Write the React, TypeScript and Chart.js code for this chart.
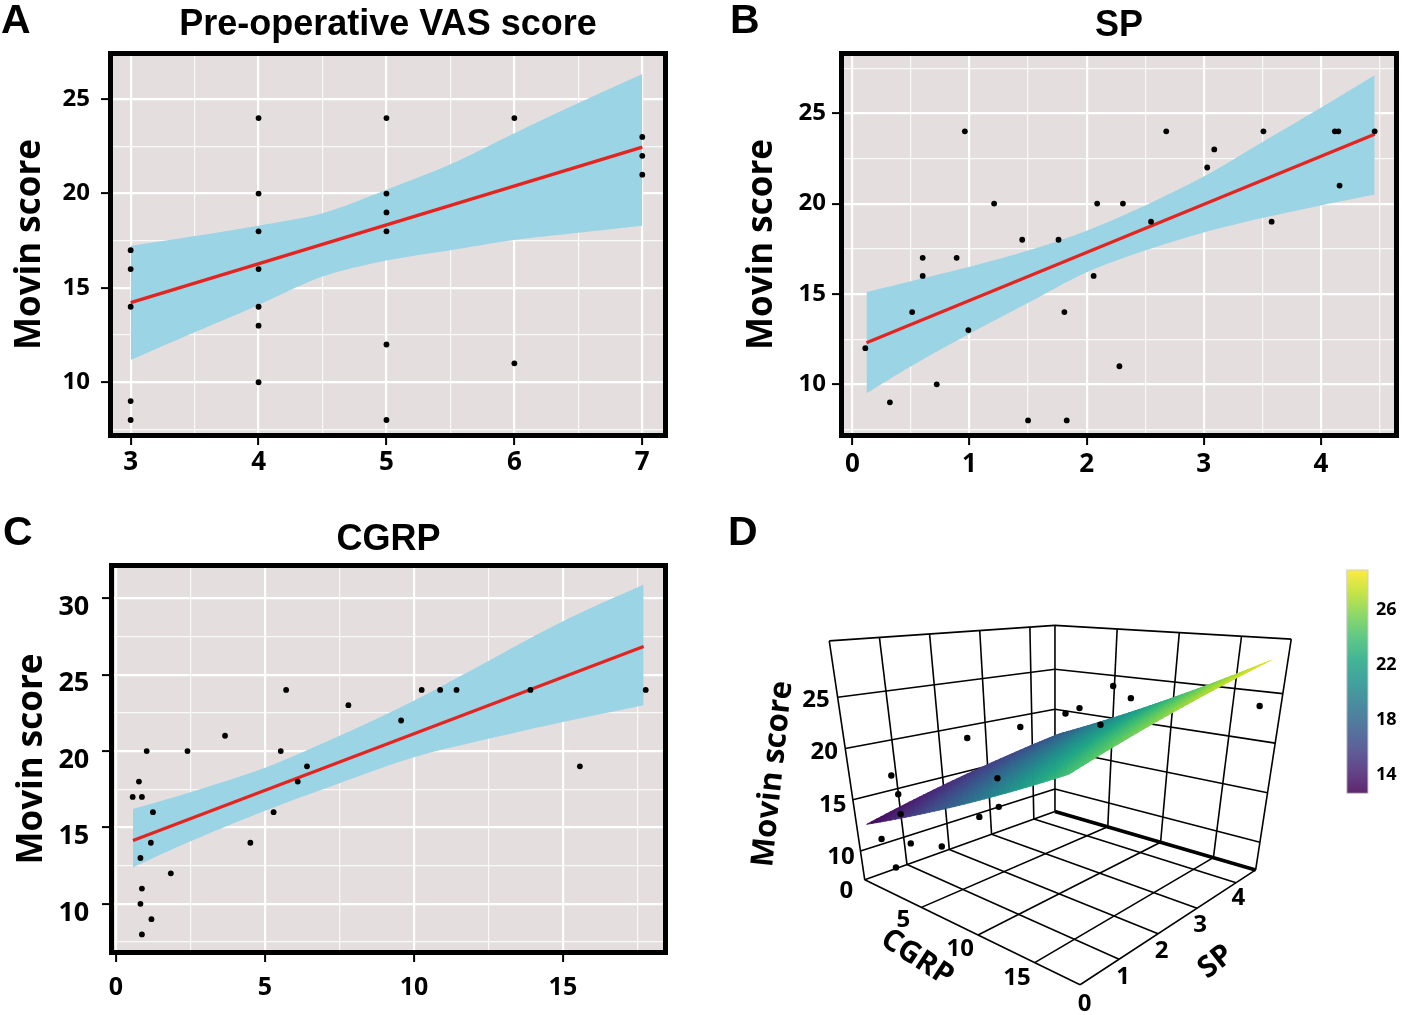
import React, { useEffect, useRef } from 'react';
import { Chart, registerables } from 'chart.js';

Chart.register(...registerables);

// ---------------- Panel A: Pre-operative VAS score ----------------
const aVas = [3, 3, 3, 3, 3, 4, 4, 4, 4, 4, 4, 4, 5, 5, 5, 5, 5, 5, 6, 6, 7, 7, 7];
const aMovin = [17, 16, 14, 9, 8, 24, 20, 18, 16, 14, 13, 10, 24, 20, 19, 18, 12, 8, 24, 11, 23, 22, 21];
const aFitX = [3, 7];
const aFitY = [14.22, 22.46];
const aBandX = [3, 3.5, 4, 4.5, 5, 5.5, 6, 6.5, 7];
const aBandHi = [17.23, 17.75, 18.3, 18.95, 20.2, 21.55, 23.2, 24.8, 26.34];
const aBandLo = [11.18, 12.65, 14.1, 15.6, 16.45, 17.0, 17.54, 17.92, 18.29];
const aXTicks = [3, 4, 5, 6, 7];
const aYTicks = [10, 15, 20, 25];

// ---------------- Panel B: SP ----------------
const bSp = [0.11, 0.32, 0.51, 0.6, 0.6, 0.72, 0.89, 0.96, 0.99, 1.21, 1.45, 1.5, 1.76, 1.81, 1.83, 2.06, 2.09, 2.28, 2.31, 2.55, 2.68, 3.03, 3.09, 3.51, 3.58, 4.12, 4.15, 4.16, 4.46];
const bMovin = [12, 9, 14, 17, 16, 10, 17, 24, 13, 20, 18, 8, 18, 14, 8, 16, 20, 11, 20, 19, 24, 22, 23, 24, 19, 24, 24, 21, 24];
const bFitX = [0.12, 4.46];
const bFitY = [12.3, 23.84];
const bBandX = [0.12, 0.5, 1.0, 1.5, 2.0, 2.5, 3.0, 3.5, 4.0, 4.46];
const bBandHi = [15.1, 15.7, 16.5, 17.4, 18.5, 19.9, 21.5, 23.4, 25.3, 27.1];
const bBandLo = [9.5, 11.0, 12.8, 14.5, 16.2, 17.4, 18.4, 19.2, 19.9, 20.5];
const bXTicks = [0, 1, 2, 3, 4];
const bYTicks = [10, 15, 20, 25];

// ---------------- Panel C: CGRP ----------------
const cCgrp = [0.56, 0.77, 0.87, 1.03, 1.24, 1.17, 0.82, 1.84, 0.87, 0.82, 1.19, 0.87, 2.4, 3.66, 4.51, 5.29, 5.53, 5.71, 6.1, 6.41, 7.8, 9.57, 10.26, 10.88, 11.43, 13.91, 15.57, 17.78];
const cMovin = [17, 18, 17, 20, 16, 14, 13, 12, 11, 10, 9, 8, 20, 21, 14, 16, 20, 24, 18, 19, 23, 22, 24, 24, 24, 24, 19, 24];
const cFitX = [0.57, 17.71];
const cFitY = [14.14, 26.84];
const cBandX = [0.57, 2.5, 5, 7.5, 10, 12.5, 15, 17.71];
const cBandHi = [16.2, 17.3, 18.9, 21.0, 23.3, 25.9, 28.5, 30.9];
const cBandLo = [12.4, 14.1, 16.1, 17.9, 19.6, 20.8, 21.9, 23.0];
const cXTicks = [0, 5, 10, 15];
const cYTicks = [10, 15, 20, 25, 30];

// ---------------- Panel D: 3D (CGRP, SP, Movin) ----------------
const dCgrp = [0.8, 0.8, 0.8, 0.6, 1.0, 0.8, 3.8, 0.6, 0.6, 3.8, 3.8, 3.0, 2.9, 2.5, 5.4, 7.2, 5.7, 18.05];
const dSp = [0.7, 0.8, 0.8, 0.36, 0.9, 0.55, 0.9, 2.45, 3.6, 2.25, 2.25, 2.0, 4.3, 4.1, 4.37, 4.3, 4.05, 4.27];
const dMovin = [17, 15, 13, 11, 10, 8, 11, 19, 19, 16, 13, 12, 21, 20.5, 24, 23, 20, 24];
const dCgrpRange = [0, 19];
const dSpRange = [0, 4.5];
const dZRange = [7.2, 30.5];
const dCgrpTicks = [0, 5, 10, 15];
const dSpTicks = [0, 1, 2, 3, 4];
const dZTicks = [10, 15, 20, 25];
const dSurfCoef = [12.3, 0.65, 1.0]; // intercept, CGRP slope, SP slope
const dSurfCgrp = [0.5, 17.8];
const dSurfSp = [0.1, 4.46];
const dColorRange = [12.67, 28.9];
const dColorTicks = [14, 18, 22, 26];

// ---------------- styling helpers ----------------
const VIRIDIS = ['#440154', '#482475', '#414487', '#355f8d', '#2a788e', '#21918c', '#22a884', '#44bf70', '#7ad151', '#bddf26', '#fde725'];
function hexToRgb(h: string) {
  const n = parseInt(h.slice(1), 16);
  return [(n >> 16) & 255, (n >> 8) & 255, n & 255];
}
function viridis(t: number, alpha = 1) {
  const tt = Math.max(0, Math.min(1, t)) * (VIRIDIS.length - 1);
  const i = Math.min(VIRIDIS.length - 2, Math.floor(tt));
  const f = tt - i;
  const a = hexToRgb(VIRIDIS[i]);
  const b = hexToRgb(VIRIDIS[i + 1]);
  const c = a.map((v, k) => Math.round(v + (b[k] - v) * f));
  return `rgba(${c[0]},${c[1]},${c[2]},${alpha})`;
}

const SANS = '"Open Sans", "Liberation Sans", sans-serif';
const TITLE_FONT = '"Liberation Sans", Arial, sans-serif';

function withMinor(major: number[], lo: number, hi: number) {
  const step = major[1] - major[0];
  const out: number[] = [];
  for (let v = major[0] - step; v <= major[major.length - 1] + step + 1e-9; v += step / 2) {
    if (v > lo + 1e-6 && v < hi - 1e-6) out.push(+v.toFixed(4));
  }
  return out;
}

type PanelSpec = {
  xs: number[]; ys: number[];
  fitX: number[]; fitY: number[];
  bandX: number[]; bandHi: number[]; bandLo: number[];
  xRange: number[]; yRange: number[];
  xTicks: number[]; yTicks: number[];
  width: number; height: number;
  area: { left: number; top: number; right: number; bottom: number };
  title: string; titleBaseline: number;
  letter: string; letterX: number; letterBaseline: number;
  yTitlePad: number; yTickPad: number; xTickPad: number;
  yTickSize: number; xTickSize: number; yLabelOffset: number;
};

function panelPlugin(p: PanelSpec) {
  return {
    id: 'panelDeco',
    beforeDraw(chart: any) {
      const { ctx, chartArea: a } = chart;
      ctx.save();
      ctx.fillStyle = '#e4dedf';
      ctx.fillRect(a.left, a.top, a.right - a.left, a.bottom - a.top);
      ctx.restore();
    },
    afterDraw(chart: any) {
      const { ctx, chartArea: a } = chart;
      ctx.save();
      ctx.strokeStyle = '#000';
      ctx.lineWidth = 5;
      ctx.strokeRect(a.left - 2.5, a.top - 2.5, a.right - a.left + 5, a.bottom - a.top + 5);
      ctx.fillStyle = '#000';
      ctx.font = `bold 36px ${TITLE_FONT}`;
      ctx.textAlign = 'center';
      ctx.textBaseline = 'alphabetic';
      ctx.fillText(p.title, (a.left + a.right) / 2, p.titleBaseline);
      ctx.font = `bold 41px ${TITLE_FONT}`;
      ctx.textAlign = 'left';
      ctx.fillText(p.letter, p.letterX, p.letterBaseline);
      ctx.restore();
    },
  };
}

function makeScatterConfig(p: PanelSpec): any {
  const near = (arr: number[], v: number) => arr.some((t) => Math.abs(t - v) < 1e-6);
  const xAll = withMinor(p.xTicks, p.xRange[0], p.xRange[1]);
  const yAll = withMinor(p.yTicks, p.yRange[0], p.yRange[1]);
  const gridFor = (majors: number[]) => ({
    color: (c: any) => (c.tick && near(majors, c.tick.value) ? 'rgba(255,255,255,1)' : 'rgba(255,255,255,0.8)'),
    lineWidth: (c: any) => (c.tick && near(majors, c.tick.value) ? 2.2 : 1.2),
    tickColor: (c: any) => (c.tick && near(majors, c.tick.value) ? '#000' : 'rgba(0,0,0,0)'),
    tickWidth: 2,
    tickLength: 12,
    drawTicks: true,
  });
  return {
    type: 'scatter',
    data: {
      datasets: [
        {
          type: 'scatter',
          data: p.xs.map((x, i) => ({ x, y: p.ys[i] })),
          pointRadius: 2.9,
          pointBackgroundColor: '#000',
          pointBorderWidth: 0,
        },
        {
          type: 'line',
          data: p.fitX.map((x, i) => ({ x, y: p.fitY[i] })),
          borderColor: '#e5231f',
          borderWidth: 3.2,
          pointRadius: 0,
          fill: false,
          tension: 0,
        },
        {
          type: 'line',
          data: p.bandX.map((x, i) => ({ x, y: p.bandHi[i] })),
          borderColor: 'rgba(0,0,0,0)',
          borderWidth: 0.01,
          pointRadius: 0,
          fill: '+1',
          backgroundColor: '#9bd4e4',
          tension: 0.3,
        },
        {
          type: 'line',
          data: p.bandX.map((x, i) => ({ x, y: p.bandLo[i] })),
          borderColor: 'rgba(0,0,0,0)',
          borderWidth: 0.01,
          pointRadius: 0,
          fill: false,
          tension: 0.3,
        },
      ],
    },
    options: {
      responsive: false,
      animation: false,
      events: [],
      layout: { padding: { top: p.area.top, right: p.width - p.area.right, left: 0, bottom: 0 } },
      plugins: { legend: { display: false }, tooltip: { enabled: false }, title: { display: false } },
      scales: {
        x: {
          type: 'linear',
          min: p.xRange[0],
          max: p.xRange[1],
          afterBuildTicks: (s: any) => { s.ticks = xAll.map((v) => ({ value: v })); },
          afterFit: (s: any) => { s.height = p.height - p.area.bottom; },
          ticks: {
            autoSkip: false,
            maxRotation: 0,
            padding: p.xTickPad,
            color: '#000',
            font: { family: SANS, size: p.xTickSize, weight: 'bold' },
            callback: (v: any) => (near(p.xTicks, v) ? String(v) : ''),
          },
          grid: gridFor(p.xTicks),
          border: { display: false },
        },
        y: {
          type: 'linear',
          min: p.yRange[0],
          max: p.yRange[1],
          afterBuildTicks: (s: any) => { s.ticks = yAll.map((v) => ({ value: v })); },
          afterFit: (s: any) => { s.width = p.area.left; },
          ticks: {
            autoSkip: false,
            padding: p.yTickPad,
            labelOffset: p.yLabelOffset,
            color: '#000',
            font: { family: SANS, size: p.yTickSize, weight: 'bold' },
            callback: (v: any) => (near(p.yTicks, v) ? String(v) : ''),
          },
          grid: gridFor(p.yTicks),
          border: { display: false },
          title: {
            display: true,
            text: 'Movin score',
            color: '#000',
            font: { family: SANS, size: 35, weight: 'bold', lineHeight: 1.2 },
            padding: { top: p.yTitlePad, bottom: 0 },
          },
        },
      },
    },
    plugins: [panelPlugin(p)],
  };
}

// ---------------- 3D projection for panel D ----------------
const BOX: Record<string, number[]> = {
  L: [162.6, 381.7], F: [380.4, 488.3], R: [558, 371.7], B: [355, 312.3],
  Lt: [126.7, 139], Ft: [380, 200], Rt: [594, 137.3], Bt: [355, 123.3],
};
function project(c: number, s: number, z: number) {
  const u = (c - dCgrpRange[0]) / (dCgrpRange[1] - dCgrpRange[0]);
  const v = (s - dSpRange[0]) / (dSpRange[1] - dSpRange[0]);
  const w = (z - dZRange[0]) / (dZRange[1] - dZRange[0]);
  const bl = (a: number[], b: number[], cc: number[], d: number[], i: number) =>
    a[i] * (1 - u) * (1 - v) + b[i] * u * (1 - v) + cc[i] * u * v + d[i] * (1 - u) * v;
  const fx = bl(BOX.L, BOX.F, BOX.R, BOX.B, 0);
  const fy = bl(BOX.L, BOX.F, BOX.R, BOX.B, 1);
  const tx = bl(BOX.Lt, BOX.Ft, BOX.Rt, BOX.Bt, 0);
  const ty = bl(BOX.Lt, BOX.Ft, BOX.Rt, BOX.Bt, 1);
  return { x: fx + w * (tx - fx), y: fy + w * (ty - fy) };
}

type Seg = { a: number[]; b: number[]; w: number };
function buildSegments(): Seg[] {
  const [c0, c1] = dCgrpRange;
  const [s0, s1] = dSpRange;
  const [z0, z1] = dZRange;
  const segs: Seg[] = [];
  const innerS = dSpTicks.filter((t) => t > s0 && t < s1);
  const innerC = dCgrpTicks.filter((t) => t > c0 && t < c1);
  // left wall (CGRP = min)
  for (const s of [s0, ...innerS, s1]) segs.push({ a: [c0, s, z0], b: [c0, s, z1], w: 1.6 });
  for (const z of [z0, ...dZTicks, z1]) segs.push({ a: [c0, s0, z], b: [c0, s1, z], w: 1.6 });
  // back wall (SP = max)
  for (const c of [...innerC, c1]) segs.push({ a: [c, s1, z0], b: [c, s1, z1], w: 1.6 });
  for (const z of [...dZTicks, z1]) segs.push({ a: [c0, s1, z], b: [c1, s1, z], w: 1.6 });
  segs.push({ a: [c0, s1, z0], b: [c1, s1, z0], w: 3.6 });
  // floor
  for (const c of [...innerC, c1]) segs.push({ a: [c, s0, z0], b: [c, s1, z0], w: 1.6 });
  for (const s of [s0, ...innerS]) segs.push({ a: [c0, s, z0], b: [c1, s, z0], w: 1.6 });
  return segs;
}

const dPlugin = {
  id: 'panelD',
  beforeDatasetDraw(chart: any, args: any) {
    if (args.index !== 0) return;
    const { ctx, scales } = chart;
    const X = (v: number) => scales.x.getPixelForValue(v);
    const Y = (v: number) => scales.y.getPixelForValue(v);
    const zf = (c: number, s: number) => dSurfCoef[0] + dSurfCoef[1] * c + dSurfCoef[2] * s;
    const N = 40;
    const [ca, cb] = dSurfCgrp;
    const [sa, sb] = dSurfSp;
    ctx.save();
    for (let i = 0; i < N; i++) {
      for (let j = 0; j < N; j++) {
        const c0 = ca + ((cb - ca) * i) / N, c1 = ca + ((cb - ca) * (i + 1)) / N;
        const s0 = sa + ((sb - sa) * j) / N, s1 = sa + ((sb - sa) * (j + 1)) / N;
        const pts = [[c0, s0], [c1, s0], [c1, s1], [c0, s1]].map(([c, s]) => project(c, s, zf(c, s)));
        const zm = zf((c0 + c1) / 2, (s0 + s1) / 2);
        const col = viridis((zm - dColorRange[0]) / (dColorRange[1] - dColorRange[0]), 1);
        ctx.beginPath();
        pts.forEach((p, k) => (k ? ctx.lineTo(X(p.x), Y(p.y)) : ctx.moveTo(X(p.x), Y(p.y))));
        ctx.closePath();
        ctx.fillStyle = col;
        ctx.strokeStyle = col;
        ctx.lineWidth = 0.8;
        ctx.fill();
        ctx.stroke();
      }
    }
    ctx.restore();
  },
  afterDraw(chart: any) {
    const { ctx, scales } = chart;
    const X = (v: number) => scales.x.getPixelForValue(v);
    const Y = (v: number) => scales.y.getPixelForValue(v);
    ctx.save();
    ctx.fillStyle = '#000';
    ctx.textAlign = 'center';
    ctx.textBaseline = 'middle';
    ctx.font = `bold 24px ${SANS}`;
    for (const z of dZTicks) {
      const p = project(dCgrpRange[0], -0.45, z);
      ctx.fillText(String(z), X(p.x), Y(p.y));
    }
    for (const c of dCgrpTicks) {
      const p = project(c, -0.45, 6.8);
      ctx.fillText(String(c), X(p.x), Y(p.y));
    }
    for (const s of dSpTicks) {
      const p = project(19.4, s, 5.8);
      ctx.fillText(String(s), X(p.x), Y(p.y));
    }
    const rot = (t: string, x: number, y: number, deg: number, size: number) => {
      ctx.save();
      ctx.translate(x, y);
      ctx.rotate((deg * Math.PI) / 180);
      ctx.font = `bold ${size}px ${SANS}`;
      ctx.fillText(t, 0, 0);
      ctx.restore();
    };
    rot('Movin score', 73, 274, -84, 31);
    rot('CGRP', 217, 458, 33, 30);
    rot('SP', 516, 462, -38, 30);
    // colorbar
    const cbL = 646.8, cbR = 668, cbT = 70, cbB = 293.3;
    const g = ctx.createLinearGradient(0, cbB, 0, cbT);
    VIRIDIS.forEach((_, k) => g.addColorStop(k / (VIRIDIS.length - 1), viridis(k / (VIRIDIS.length - 1), 0.85)));
    ctx.fillStyle = g;
    ctx.fillRect(cbL, cbT, cbR - cbL, cbB - cbT);
    ctx.strokeStyle = '#cfcfcf';
    ctx.lineWidth = 1;
    ctx.strokeRect(cbL, cbT, cbR - cbL, cbB - cbT);
    ctx.fillStyle = '#000';
    ctx.textAlign = 'left';
    ctx.font = `bold 18px ${SANS}`;
    for (const t of dColorTicks) {
      const y = cbB - ((t - dColorRange[0]) / (dColorRange[1] - dColorRange[0])) * (cbB - cbT);
      ctx.fillText(String(t), 676, y);
    }
    ctx.font = `bold 41px ${TITLE_FONT}`;
    ctx.textBaseline = 'alphabetic';
    ctx.fillText('D', 28, 45);
    ctx.restore();
  },
};

function makeDConfig(): any {
  const W = 703, H = 515;
  const segs = buildSegments();
  const datasets: any[] = [
    {
      type: 'scatter',
      data: dCgrp.map((c, i) => project(c, dSp[i], dMovin[i])),
      pointRadius: 3.2,
      pointBackgroundColor: '#000',
      pointBorderWidth: 0,
    },
    ...segs.map((sg) => ({
      type: 'scatter',
      data: [project(sg.a[0], sg.a[1], sg.a[2]), project(sg.b[0], sg.b[1], sg.b[2])],
      showLine: true,
      borderColor: '#000',
      borderWidth: sg.w,
      pointRadius: 0,
    })),
  ];
  return {
    type: 'scatter',
    data: { datasets },
    options: {
      responsive: false,
      animation: false,
      events: [],
      layout: { padding: 0 },
      plugins: { legend: { display: false }, tooltip: { enabled: false } },
      scales: {
        x: { type: 'linear', display: false, min: 0, max: W },
        y: { type: 'linear', display: false, min: 0, max: H, reverse: true },
      },
    },
    plugins: [dPlugin],
  };
}

// ---------------- specs ----------------
const specA: PanelSpec = {
  xs: aVas, ys: aMovin, fitX: aFitX, fitY: aFitY, bandX: aBandX, bandHi: aBandHi, bandLo: aBandLo,
  xRange: [2.862, 7.162], yRange: [7.31, 27.29], xTicks: aXTicks, yTicks: aYTicks,
  width: 700, height: 500, area: { left: 113, top: 56, right: 663, bottom: 433 },
  title: 'Pre-operative VAS score', titleBaseline: 35, letter: 'A', letterX: 1, letterBaseline: 33,
  yTitlePad: 9, yTickPad: 11, xTickPad: 1.5, yTickSize: 24, xTickSize: 26, yLabelOffset: 0,
};
const specB: PanelSpec = {
  xs: bSp, ys: bMovin, fitX: bFitX, fitY: bFitY, bandX: bBandX, bandHi: bBandHi, bandLo: bBandLo,
  xRange: [-0.072, 4.625], yRange: [7.305, 28.17], xTicks: bXTicks, yTicks: bYTicks,
  width: 703, height: 500, area: { left: 144, top: 56, right: 694, bottom: 433 },
  title: 'SP', titleBaseline: 36, letter: 'B', letterX: 30, letterBaseline: 33,
  yTitlePad: 41, yTickPad: 6, xTickPad: 4, yTickSize: 24, xTickSize: 26, yLabelOffset: 0,
};
const specC: PanelSpec = {
  xs: cCgrp, ys: cMovin, fitX: cFitX, fitY: cFitY, bandX: cBandX, bandHi: cBandHi, bandLo: cBandLo,
  xRange: [-0.067, 18.36], yRange: [6.98, 31.98], xTicks: cXTicks, yTicks: cYTicks,
  width: 700, height: 515, area: { left: 114, top: 68, right: 663, bottom: 450 },
  title: 'CGRP', titleBaseline: 50, letter: 'C', letterX: 3, letterBaseline: 45,
  yTitlePad: 11, yTickPad: 12.7, xTickPad: 11, yTickSize: 27, xTickSize: 25, yLabelOffset: 9,
};

function ChartBox({ left, top, width, height, make }: { left: number; top: number; width: number; height: number; make: () => any }) {
  const ref = useRef<HTMLCanvasElement>(null);
  useEffect(() => {
    const chart = new Chart(ref.current as HTMLCanvasElement, make());
    return () => chart.destroy();
  }, []);
  return (
    <div style={{ position: 'absolute', left, top, width, height }}>
      <canvas ref={ref} width={width} height={height} style={{ width, height, display: 'block' }} />
    </div>
  );
}

export default function App() {
  return (
    <div style={{ position: 'absolute', left: 0, top: 0, width: 1403, height: 1015, background: '#fff', overflow: 'hidden' }}>
      <ChartBox left={0} top={0} width={700} height={500} make={() => makeScatterConfig(specA)} />
      <ChartBox left={700} top={0} width={703} height={500} make={() => makeScatterConfig(specB)} />
      <ChartBox left={0} top={500} width={700} height={515} make={() => makeScatterConfig(specC)} />
      <ChartBox left={700} top={500} width={703} height={515} make={makeDConfig} />
    </div>
  );
}
